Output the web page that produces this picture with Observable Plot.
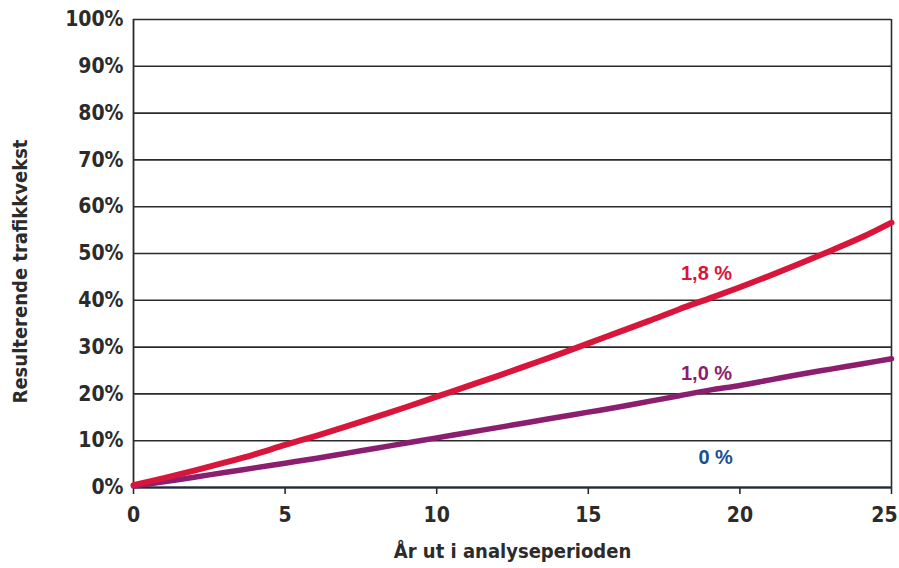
<!DOCTYPE html>
<html>
<head>
<meta charset="utf-8">
<script src="https://cdn.jsdelivr.net/npm/d3@7"></script>
<script src="https://cdn.jsdelivr.net/npm/@observablehq/plot@0.6"></script>
<style>
  html, body { margin: 0; padding: 0; background: #fff; }
  #chart svg { display: block; }
</style>
</head>
<body>
<div id="chart"></div>
<script>
// Years in the analysis period
const years = [0,1,2,3,4,5,6,7,8,9,10,11,12,13,14,15,16,17,18,19,20,21,22,23,24,25];

// Resulting traffic growth (%) for each annual growth rate
const growth18 = [0.5,2.0,3.6,5.3,7.1,9.1,11.0,13.0,15.1,17.2,19.4,21.6,23.8,26.1,28.4,30.8,33.2,35.6,38.1,40.4,42.8,45.3,47.9,50.6,53.4,56.6];
const growth10 = [0.3,1.2,2.2,3.2,4.2,5.2,6.2,7.3,8.4,9.5,10.6,11.7,12.8,13.9,15.0,16.1,17.2,18.4,19.6,20.8,21.8,23.0,24.2,25.3,26.4,27.5];
const growth00 = years.map(() => 0);

// Series labels
const seriesNames = ["1,8 %", "1,0 %", "0 %"];
const seriesColors = ["#d8153b", "#8b1e6f", "#1c4f8e"];
const labelYear = [18.9, 18.9, 19.2];
const labelValue = [45.8, 24.4, 6.4];

const xTicks = [0, 5, 10, 15, 20];
const xLastTick = [25];
const yTicks = [0, 10, 20, 30, 40, 50, 60, 70, 80, 90, 100];

const xTitle = "År ut i analyseperioden";
const yTitle = "Resulterende trafikkvekst";

const toRows = (vals) => years.map((y, i) => ({year: y, value: vals[i]}));
const labels = seriesNames.map((name, i) => ({name, color: seriesColors[i], year: labelYear[i], value: labelValue[i]}));

const font = "'DejaVu Sans Condensed', 'Liberation Sans Narrow', sans-serif";
const ink = "#2b2b2b";

const chart = Plot.plot({
  width: 899,
  height: 568,
  marginLeft: 133,
  marginRight: 8,
  marginTop: 19,
  marginBottom: 81,
  style: {fontFamily: font, fontWeight: "bold", fontSize: "21px", color: ink, background: "#fff"},
  x: {type: "linear", domain: [0, 25]},
  y: {type: "linear", domain: [0, 100]},
  marks: [
    Plot.ruleY(yTicks, {stroke: ink, strokeWidth: 1.6}),
    // right border, extended below the frame to act as the last x tick
    Plot.ruleX(xLastTick, {stroke: ink, strokeWidth: 1.6, insetBottom: -7}),
    Plot.line(toRows(growth00), {x: "year", y: "value", stroke: seriesColors[2], strokeWidth: 1.5}),
    Plot.axisY({ticks: yTicks, tickSize: 0, tickPadding: 10, tickFormat: d => d + "%", label: null}),
    Plot.axisX({ticks: xTicks, tickSize: 7, tickPadding: 13, stroke: ink, strokeWidth: 1.6, label: null}),
    Plot.axisX({ticks: xLastTick, tickSize: 0, tickPadding: 20, label: null, dx: -7}),
    Plot.ruleX([0], {stroke: ink, strokeWidth: 1.8}),
    Plot.ruleY([0], {stroke: ink, strokeWidth: 1.8}),
    Plot.line(toRows(growth10), {x: "year", y: "value", stroke: seriesColors[1], strokeWidth: 5.5, curve: "monotone-x"}),
    Plot.line(toRows(growth18), {x: "year", y: "value", stroke: seriesColors[0], strokeWidth: 6, curve: "monotone-x"}),
    Plot.text(labels, {x: "year", y: "value", text: "name", fill: "color",
      fontFamily: "'Liberation Sans', Arial, sans-serif", fontWeight: "bold", fontSize: 20}),
    Plot.text([xTitle], {frameAnchor: "bottom", dy: 70, fontSize: 20}),
    Plot.text([yTitle], {frameAnchor: "left", textAnchor: "middle", dx: -113, dy: 18, rotate: -90, fontSize: 20})
  ]
});

document.getElementById("chart").appendChild(chart);
</script>
</body>
</html>
